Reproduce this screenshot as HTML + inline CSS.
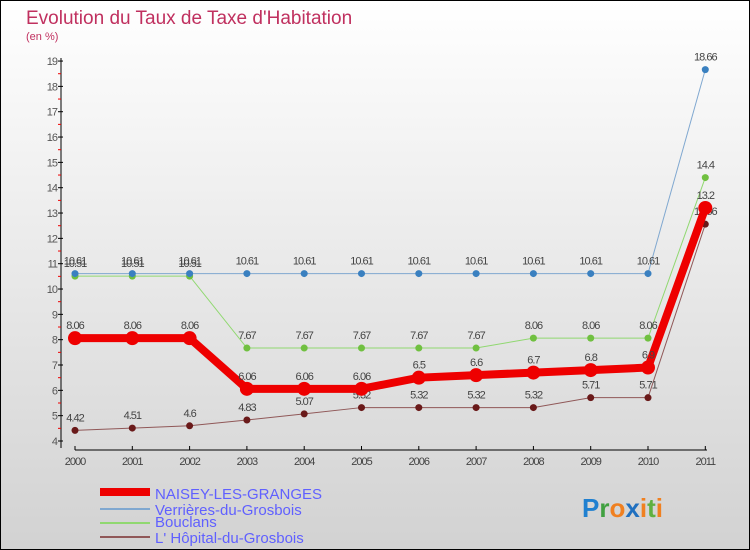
<!DOCTYPE html>
<html><head><meta charset="utf-8"><style>
body{margin:0}
#c{width:750px;height:550px;position:relative;box-sizing:border-box;border:1px solid #000;background:linear-gradient(#fff,#d2d2d2);font-family:"Liberation Sans",sans-serif;overflow:hidden}
</style></head><body>
<div id="c">
<svg id="s" width="750" height="550" style="position:absolute;left:-1px;top:-1px">
<text x="26" y="24" font-size="19" fill="#c0305f">Evolution du Taux de Taxe d'Habitation</text>
<text x="26" y="40" font-size="11" fill="#c0305f">(en %)</text>
<g id="axes"></g><g id="series"></g>
<g>
<rect x="100" y="488" width="50" height="8" fill="#e00"/>
<text x="155" y="499" font-size="15" fill="#6060ff">NAISEY-LES-GRANGES</text>
<line x1="100" y1="509" x2="150" y2="509" stroke="#80a8d0" stroke-width="2"/>
<text x="155" y="515" font-size="15" fill="#6060ff">Verrières-du-Grosbois</text>
<line x1="100" y1="523" x2="150" y2="523" stroke="#90d870" stroke-width="2"/>
<text x="155" y="527" font-size="15" fill="#6060ff">Bouclans</text>
<line x1="100" y1="537" x2="150" y2="537" stroke="#905858" stroke-width="2"/>
<text x="155" y="543" font-size="15" fill="#6060ff">L' Hôpital-du-Grosbois</text>
</g>
<text x="582" y="517" font-size="26" font-weight="bold"><tspan fill="#2080d0">P</tspan><tspan fill="#40a040">r</tspan><tspan fill="#f08020">o</tspan><tspan fill="#2070c0">x</tspan><tspan fill="#f08020">i</tspan><tspan fill="#60b040">t</tspan><tspan fill="#f08020">i</tspan></text>
</svg>
</div>
<script>
const years=["2000","2001","2002","2003","2004","2005","2006","2007","2008","2009","2010","2011"];
const yTicks=[4,5,6,7,8,9,10,11,12,13,14,15,16,17,18,19];
const naisey=[8.06,8.06,8.06,6.06,6.06,6.06,6.5,6.6,6.7,6.8,6.9,13.2];
const verrieres=[10.61,10.61,10.61,10.61,10.61,10.61,10.61,10.61,10.61,10.61,10.61,18.66];
const bouclans=[10.51,10.51,10.51,7.67,7.67,7.67,7.67,7.67,8.06,8.06,8.06,14.4];
const hopital=[4.42,4.51,4.6,4.83,5.07,5.32,5.32,5.32,5.32,5.71,5.71,12.56];
const NS="http://www.w3.org/2000/svg";
const xs=i=>75+i*57.3;
const ys=v=>441-(v-4)*25.33;
function mk(t,a,p){const e=document.createElementNS(NS,t);for(const k in a)e.setAttribute(k,a[k]);p.appendChild(e);return e;}
const ax=document.getElementById('axes'),sg=document.getElementById('series');
let l=mk('line',{x1:61,y1:58,x2:61,y2:448,stroke:'#000'},ax);


l=mk('line',{x1:75,y1:450,x2:707,y2:450,stroke:'#000'},ax);


yTicks.forEach(v=>{
 mk('line',{x1:58,y1:ys(v),x2:63,y2:ys(v),stroke:'#000'},ax);
 if(v<19)mk('line',{x1:58,y1:ys(v+0.5),x2:61,y2:ys(v+0.5),stroke:'#e00'},ax);
 const t=mk('text',{x:57,y:ys(v)+4,'font-size':11,fill:'#555','text-anchor':'end','letter-spacing':'-1'},ax);t.textContent=v;
 
 
});
years.forEach((y,i)=>{
 mk('line',{x1:xs(i),y1:446,x2:xs(i),y2:450,stroke:'#000'},ax);
 const t=mk('text',{x:xs(i),y:465,'font-size':11,fill:'#444','text-anchor':'middle','letter-spacing':'-1'},ax);t.textContent=y;
 
 
});
function draw(arr,color,dot,w,r,name){
 const g=mk('g',{},sg);
 
 
 mk('polyline',{points:arr.map((v,i)=>xs(i)+','+ys(v)).join(' '),fill:'none',stroke:color,'stroke-width':w},g);
 arr.forEach((v,i)=>{
  const c=mk('circle',{cx:xs(i),cy:ys(v),r:r,fill:dot},g);
  
  
  const t=mk('text',{x:xs(i),y:ys(v)-9,'font-size':11,fill:'#444','text-anchor':'middle','letter-spacing':'-1'},g);
  t.textContent=String(v);
 });
}
draw(hopital,'#905858','#6a1a1a',1,3.5,'series-hopital');
draw(bouclans,'#90d870','#70c040',1,3.5,'series-bouclans');
draw(verrieres,'#80a8d0','#3a80c0',1,3.5,'series-verrieres');
draw(naisey,'#ee0000','#ee0000',8,7,'series-naisey');
</script>
</body></html>
